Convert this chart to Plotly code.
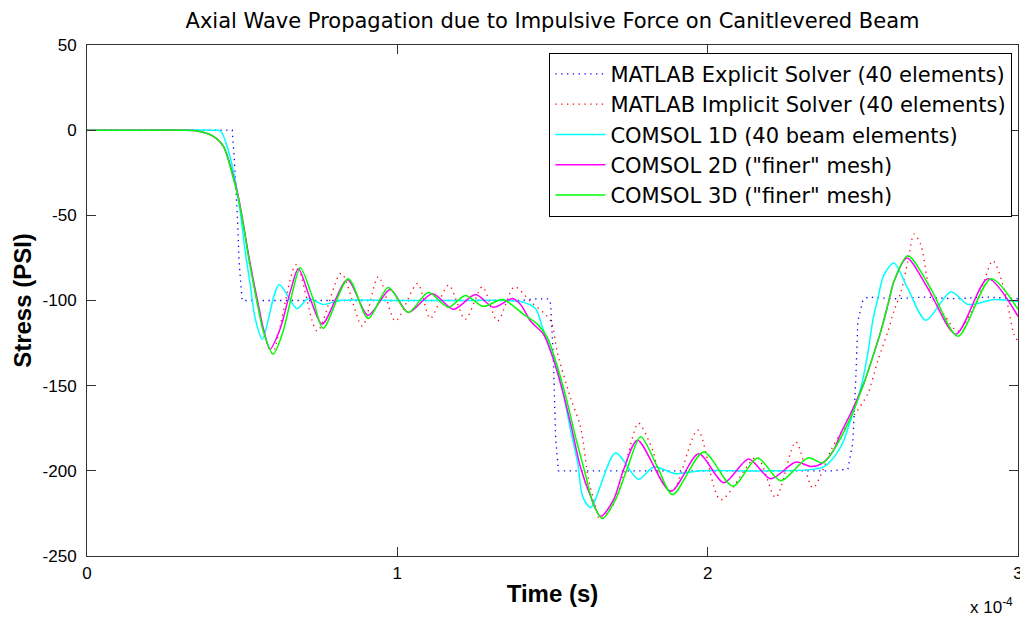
import plotly.graph_objects as go

# Time in units of 1e-4 s, stress in PSI
explicit_t = [0.0, 0.468, 0.474, 0.484, 0.490, 0.500, 0.80, 1.10, 1.40, 1.45, 1.487,
              1.494, 1.503, 1.510, 1.519, 1.80, 2.10, 2.40, 2.452, 2.468, 2.477, 2.484,
              2.500, 2.516, 2.60, 2.70, 2.80, 2.90, 3.0]
explicit_s = [0, 0, -15, -48, -77, -100, -100, -100, -100, -99, -99,
              -102, -135, -180, -200, -200, -200, -200, -199, -183, -147, -112,
              -100, -98, -99, -98, -99, -98, -99]

implicit_t = [0.0, 0.15, 0.30, 0.35, 0.406, 0.439, 0.471, 0.503, 0.535, 0.568, 0.597, 0.674, 0.742,
              0.819, 0.887, 0.939, 0.994, 1.065, 1.106, 1.165, 1.219, 1.274, 1.323, 1.377,
              1.429, 1.494, 1.516, 1.558, 1.590, 1.616, 1.639, 1.652, 1.687, 1.719, 1.745,
              1.777, 1.823, 1.848, 1.887, 1.968, 2.042, 2.158, 2.219, 2.284, 2.339, 2.397,
              2.429, 2.477, 2.516, 2.548, 2.581, 2.600, 2.623, 2.645, 2.665, 2.687, 2.719,
              2.761, 2.806, 2.871, 2.919, 2.955, 2.987, 3.0]
implicit_s = [0, 0, 0, -0.3, -3.5, -9.5, -27, -55, -88, -117, -131, -79, -118,
              -84, -115, -86, -112, -90, -110.5, -91, -111, -92, -112, -92,
              -100.6, -112, -131, -157, -174, -205, -221, -228.5, -222.7, -209, -189.5,
              -172, -188, -205, -212, -176, -217, -192, -215.7, -183, -210, -188,
              -178, -166, -154.7, -135.5, -118, -106.4, -94.8, -77.3, -61, -67.4, -96.5,
              -108, -118, -98.8, -76.7, -93, -119.8, -124]

comsol1d_t = [0.0, 0.15, 0.30, 0.40, 0.43, 0.455, 0.477, 0.494, 0.510, 0.526, 0.542, 0.565, 0.619,
              0.677, 0.713, 0.761, 0.816, 1.00, 1.20, 1.397, 1.445, 1.468, 1.494, 1.516,
              1.535, 1.558, 1.581, 1.597, 1.623, 1.703, 1.777, 1.826, 1.897, 1.977, 2.20,
              2.374, 2.429, 2.461, 2.494, 2.516, 2.532, 2.548, 2.568, 2.600, 2.645, 2.703,
              2.784, 2.839, 2.923, 3.0]
comsol1d_s = [0, 0, 0, 0, -0.5, -11.6, -29, -48, -71.5, -90.7, -110.5, -122.7, -90.7,
              -104.7, -98.8, -102.3, -100, -100, -100, -100.6, -104.7, -116, -129.7, -141,
              -154.7, -176, -195, -215, -221.5, -189.5, -205, -197.7, -201.7, -200, -200,
              -197.7, -186, -170, -151, -131, -112, -99, -85, -78, -93, -111.6,
              -94.8, -102.3, -99.4, -100.6]

comsol2d_t = [0.0, 0.15, 0.30, 0.35, 0.406, 0.439, 0.471, 0.487, 0.503, 0.519, 0.535, 0.552, 0.568,
              0.590, 0.623, 0.655, 0.681, 0.719, 0.758, 0.839, 0.906, 0.977, 1.035, 1.113,
              1.181, 1.252, 1.310, 1.371, 1.397, 1.429, 1.471, 1.494, 1.526, 1.558, 1.590,
              1.623, 1.655, 1.697, 1.729, 1.774, 1.881, 1.971, 2.052, 2.132, 2.203, 2.284,
              2.335, 2.371, 2.406, 2.429, 2.461, 2.503, 2.535, 2.558, 2.581, 2.600, 2.642,
              2.710, 2.800, 2.903, 3.0]
comsol2d_s = [0, 0, 0, -0.3, -3.5, -9.3, -26.7, -38.4, -54, -71.5, -87.2, -102.3, -116.3,
              -128.5, -116.3, -94.8, -81.4, -98.8, -113.9, -87.8, -108.7, -93.6, -107, -96,
              -105.2, -96.5, -104, -98.8, -102.3, -112, -119.8, -129.7, -148.8, -172, -197.7,
              -215, -226.7, -216.9, -199.4, -182, -212, -190, -207, -193, -204.7, -194.8,
              -197.5, -195.3, -187.8, -177.9, -166.3, -148.8, -131.4, -118, -102.3, -89, -75,
              -93, -119.8, -87.2, -109.3]

comsol3d_t = [0.0, 0.15, 0.30, 0.35, 0.406, 0.439, 0.471, 0.487, 0.503, 0.519, 0.535, 0.552, 0.568,
              0.600, 0.632, 0.661, 0.687, 0.726, 0.761, 0.842, 0.906, 0.971, 1.035, 1.100,
              1.165, 1.219, 1.277, 1.339, 1.406, 1.452, 1.484, 1.510, 1.542, 1.574, 1.606,
              1.632, 1.661, 1.703, 1.742, 1.784, 1.839, 1.887, 1.987, 2.081, 2.161, 2.235,
              2.323, 2.371, 2.406, 2.461, 2.503, 2.535, 2.558, 2.581, 2.600, 2.645, 2.719,
              2.806, 2.913, 3.0]
comsol3d_s = [0, 0, 0, -0.3, -3.5, -9.3, -27.9, -39.5, -55, -73, -89, -104.7, -118,
              -131.4, -118, -96, -80.8, -97.7, -116.3, -87.2, -110.5, -92.4, -107, -95.3,
              -104, -97, -103.5, -99.4, -108, -114, -122, -135.5, -155.8, -180, -202,
              -219.8, -228, -216.9, -198, -180, -198, -214, -189, -209, -192.4, -205.8,
              -192.4, -195.3, -187.8, -168.6, -148.8, -131.4, -118, -102.3, -89, -73.8, -93,
              -121, -87.2, -105.2]

series_names = ["MATLAB Explicit Solver (40 elements)",
                "MATLAB Implicit Solver (40 elements)",
                "COMSOL 1D (40 beam elements)",
                "COMSOL 2D (\"finer\" mesh)",
                "COMSOL 3D (\"finer\" mesh)"]

x_ticks = [0, 1, 2, 3]
y_ticks = [50, 0, -50, -100, -150, -200, -250]

FONT = "Liberation Sans, Arial, sans-serif"
WIDE = "DejaVu Sans, Liberation Sans, sans-serif"

fig = go.Figure()
fig.add_trace(go.Scatter(x=explicit_t, y=explicit_s, mode="lines", name=series_names[0],
                         line=dict(color="#0000FF", width=1.3, dash="1.3px,4.5px")))
fig.add_trace(go.Scatter(x=implicit_t, y=implicit_s, mode="lines", name=series_names[1],
                         line=dict(color="#FF0000", width=1.3, dash="1.3px,4.5px",
                                   shape="spline", smoothing=0.8)))
fig.add_trace(go.Scatter(x=comsol1d_t, y=comsol1d_s, mode="lines", name=series_names[2],
                         line=dict(color="#00FFFF", width=1.5, shape="spline", smoothing=0.8)))
fig.add_trace(go.Scatter(x=comsol2d_t, y=comsol2d_s, mode="lines", name=series_names[3],
                         line=dict(color="#FF00FF", width=1.5, shape="spline", smoothing=0.8)))
fig.add_trace(go.Scatter(x=comsol3d_t, y=comsol3d_s, mode="lines", name=series_names[4],
                         line=dict(color="#00FF00", width=1.5, shape="spline", smoothing=0.8)))

axis_common = dict(showgrid=False, zeroline=False, showline=True, linecolor="#333333",
                   linewidth=1, mirror="allticks", ticks="inside", ticklen=9,
                   tickcolor="#333333", automargin=False,
                   tickfont=dict(family=FONT, size=17, color="#000000"))

fig.update_xaxes(range=[0, 3], tickvals=x_ticks, ticktext=[str(v) for v in x_ticks],
                 ticklabelstandoff=2,
                 title=dict(text="<b>Time (s)</b>", font=dict(family=FONT, size=24, color="#000"),
                            standoff=2),
                 **axis_common)
fig.update_yaxes(range=[-250, 50], tickvals=y_ticks, ticktext=[str(v) for v in y_ticks],
                 ticklabelstandoff=6,
                 title=dict(text="<b>Stress (PSI)</b>", font=dict(family=FONT, size=24, color="#000"),
                            standoff=4),
                 **axis_common)

fig.add_annotation(text="x 10<sup>-4</sup>", xref="paper", yref="paper", x=0.997, y=-0.097,
                   xanchor="right", yanchor="middle", showarrow=False,
                   font=dict(family=FONT, size=17, color="#000"))

fig.update_layout(
    width=1020, height=609,
    margin=dict(l=79, r=10, t=37, b=61),
    paper_bgcolor="white", plot_bgcolor="white",
    title=dict(text="Axial Wave Propagation due to Impulsive Force on Canitlevered Beam",
               x=0.5, xref="paper", xanchor="center", y=0.979, yanchor="middle",
               font=dict(family=WIDE, size=21, color="#000")),
    showlegend=True,
    legend=dict(x=0.994, xanchor="right", y=0.985, yanchor="top",
                bgcolor="white", bordercolor="#000000", borderwidth=1,
                itemwidth=50,
                font=dict(family=WIDE, size=21, color="#000"), tracegroupgap=0),
)

fig.write_html("out.html")
